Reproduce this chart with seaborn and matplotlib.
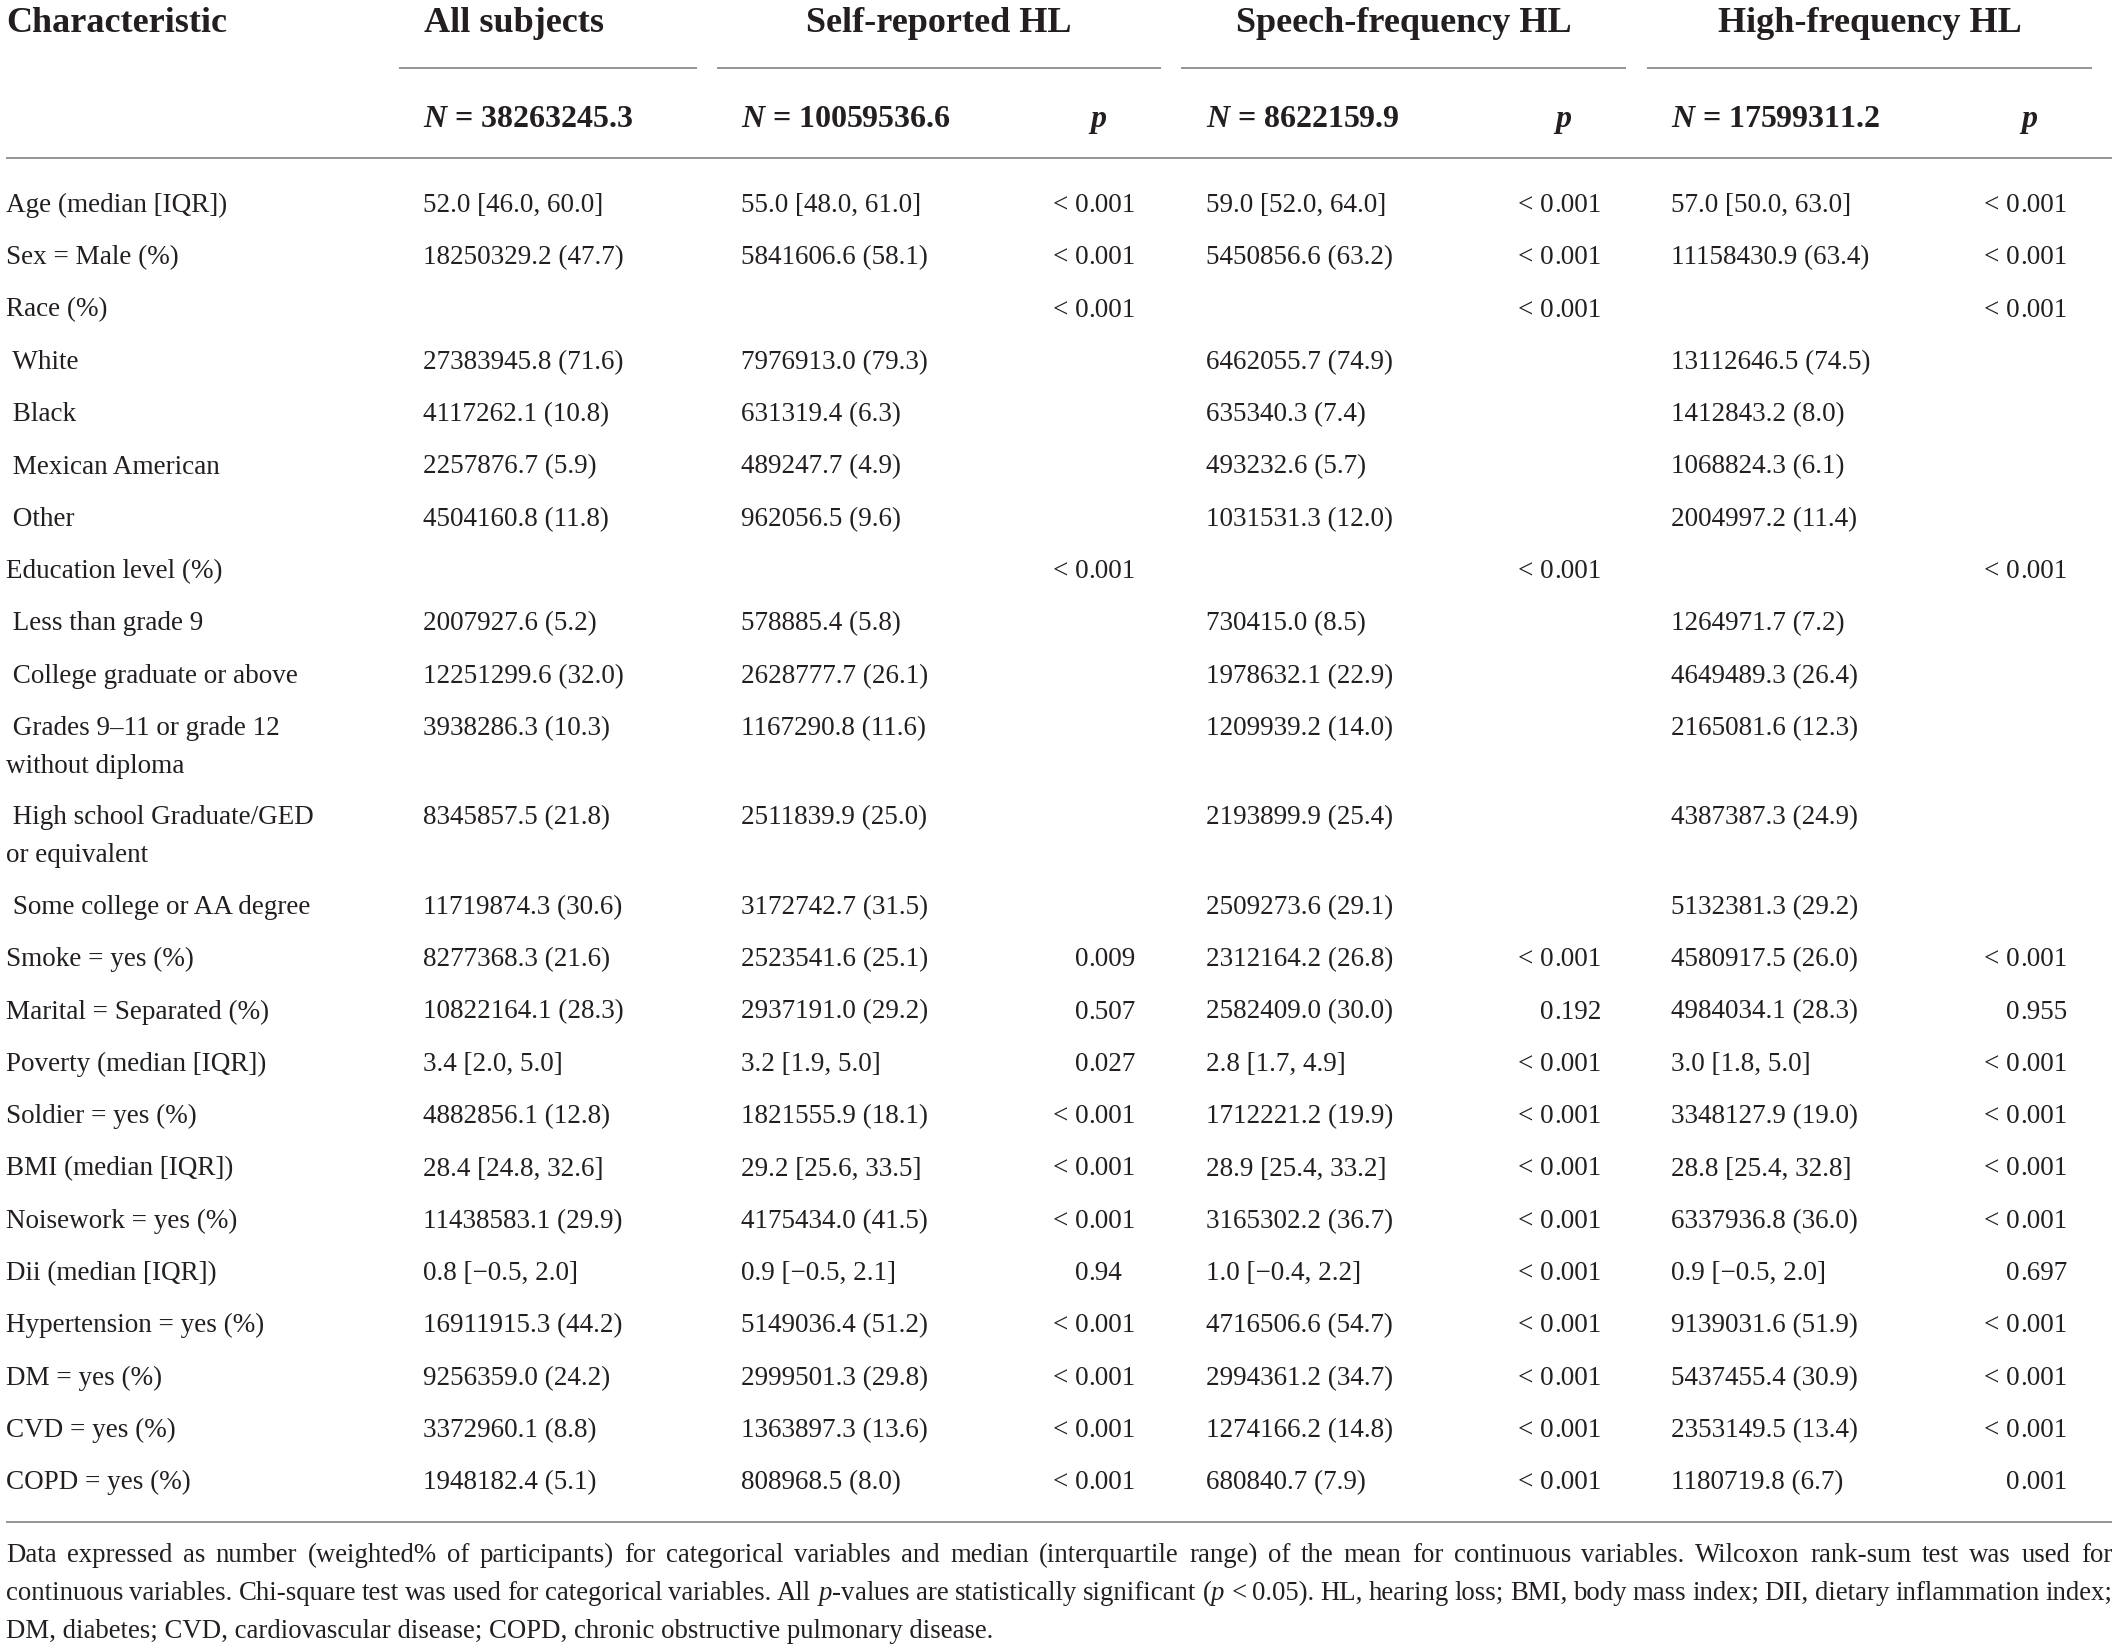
import numpy as np
import pandas as pd
import seaborn as sns
import matplotlib
matplotlib.use("Agg")
import matplotlib.pyplot as plt

# ---------------- data ----------------
labels = ["Age (median [IQR])", "Sex = Male (%)", "Race (%)", " White", " Black",
          " Mexican American", " Other", "Education level (%)", " Less than grade 9",
          " College graduate or above", " Grades 9\u201311 or grade 12\nwithout diploma",
          " High school Graduate/GED\nor equivalent", " Some college or AA degree",
          "Smoke = yes (%)", "Marital = Separated (%)", "Poverty (median [IQR])",
          "Soldier = yes (%)", "BMI (median [IQR])", "Noisework = yes (%)",
          "Dii (median [IQR])", "Hypertension = yes (%)", "DM = yes (%)", "CVD = yes (%)",
          "COPD = yes (%)"]

all_vals = ["52.0 [46.0, 60.0]", "18250329.2 (47.7)", "", "27383945.8 (71.6)", "4117262.1 (10.8)",
            "2257876.7 (5.9)", "4504160.8 (11.8)", "", "2007927.6 (5.2)", "12251299.6 (32.0)",
            "3938286.3 (10.3)", "8345857.5 (21.8)", "11719874.3 (30.6)", "8277368.3 (21.6)",
            "10822164.1 (28.3)", "3.4 [2.0, 5.0]", "4882856.1 (12.8)", "28.4 [24.8, 32.6]",
            "11438583.1 (29.9)", "0.8 [\u22120.5, 2.0]", "16911915.3 (44.2)", "9256359.0 (24.2)",
            "3372960.1 (8.8)", "1948182.4 (5.1)"]

self_vals = ["55.0 [48.0, 61.0]", "5841606.6 (58.1)", "", "7976913.0 (79.3)", "631319.4 (6.3)",
             "489247.7 (4.9)", "962056.5 (9.6)", "", "578885.4 (5.8)", "2628777.7 (26.1)",
             "1167290.8 (11.6)", "2511839.9 (25.0)", "3172742.7 (31.5)", "2523541.6 (25.1)",
             "2937191.0 (29.2)", "3.2 [1.9, 5.0]", "1821555.9 (18.1)", "29.2 [25.6, 33.5]",
             "4175434.0 (41.5)", "0.9 [\u22120.5, 2.1]", "5149036.4 (51.2)", "2999501.3 (29.8)",
             "1363897.3 (13.6)", "808968.5 (8.0)"]
self_p = ["< 0.001", "< 0.001", "< 0.001", "", "", "", "", "< 0.001", "", "", "", "", "",
          "0.009", "0.507", "0.027", "< 0.001", "< 0.001", "< 0.001", "0.94", "< 0.001",
          "< 0.001", "< 0.001", "< 0.001"]

speech_vals = ["59.0 [52.0, 64.0]", "5450856.6 (63.2)", "", "6462055.7 (74.9)", "635340.3 (7.4)",
               "493232.6 (5.7)", "1031531.3 (12.0)", "", "730415.0 (8.5)", "1978632.1 (22.9)",
               "1209939.2 (14.0)", "2193899.9 (25.4)", "2509273.6 (29.1)", "2312164.2 (26.8)",
               "2582409.0 (30.0)", "2.8 [1.7, 4.9]", "1712221.2 (19.9)", "28.9 [25.4, 33.2]",
               "3165302.2 (36.7)", "1.0 [\u22120.4, 2.2]", "4716506.6 (54.7)", "2994361.2 (34.7)",
               "1274166.2 (14.8)", "680840.7 (7.9)"]
speech_p = ["< 0.001", "< 0.001", "< 0.001", "", "", "", "", "< 0.001", "", "", "", "", "",
            "< 0.001", "0.192", "< 0.001", "< 0.001", "< 0.001", "< 0.001", "< 0.001", "< 0.001",
            "< 0.001", "< 0.001", "< 0.001"]

high_vals = ["57.0 [50.0, 63.0]", "11158430.9 (63.4)", "", "13112646.5 (74.5)", "1412843.2 (8.0)",
             "1068824.3 (6.1)", "2004997.2 (11.4)", "", "1264971.7 (7.2)", "4649489.3 (26.4)",
             "2165081.6 (12.3)", "4387387.3 (24.9)", "5132381.3 (29.2)", "4580917.5 (26.0)",
             "4984034.1 (28.3)", "3.0 [1.8, 5.0]", "3348127.9 (19.0)", "28.8 [25.4, 32.8]",
             "6337936.8 (36.0)", "0.9 [\u22120.5, 2.0]", "9139031.6 (51.9)", "5437455.4 (30.9)",
             "2353149.5 (13.4)", "1180719.8 (6.7)"]
high_p = ["< 0.001", "< 0.001", "< 0.001", "", "", "", "", "< 0.001", "", "", "", "", "",
          "< 0.001", "0.955", "< 0.001", "< 0.001", "< 0.001", "< 0.001", "0.697", "< 0.001",
          "< 0.001", "< 0.001", "0.001"]

group_titles = ["All subjects", "Self-reported HL", "Speech-frequency HL", "High-frequency HL"]
group_n = ["38263245.3", "10059536.6", "8622159.9", "17599311.2"]

footnote_lines = [
    "Data expressed as number (weighted% of participants) for categorical variables and median (interquartile range) of the mean for continuous variables. Wilcoxon rank-sum test was used for",
    "continuous variables. Chi-square test was used for categorical variables. All $p$-values are statistically significant ($p$ < 0.05). HL, hearing loss; BMI, body mass index; DII, dietary inflammation index;",
    "DM, diabetes; CVD, cardiovascular disease; COPD, chronic obstructive pulmonary disease.",
]

df = pd.DataFrame({"label": labels, "all": all_vals, "self": self_vals, "self_p": self_p,
                   "speech": speech_vals, "speech_p": speech_p, "high": high_vals, "high_p": high_p})

# ---------------- style ----------------
sns.set_theme(style="white")
plt.rcParams['font.family'] = ['Liberation Serif', 'DejaVu Serif']
plt.rcParams['mathtext.fontset'] = 'custom'
plt.rcParams['mathtext.rm'] = 'Liberation Serif'
plt.rcParams['mathtext.it'] = 'Liberation Serif:italic'
plt.rcParams['mathtext.bf'] = 'Liberation Serif:italic:bold'

W, H = 2117, 1650
fig = plt.figure(figsize=(W / 100, H / 100), dpi=100)
fig.patch.set_facecolor("white")
ax = fig.add_axes([0, 0, 1, 1])
ax.set_xlim(0, W)
ax.set_ylim(H, 0)
ax.axis("off")
renderer = fig.canvas.get_renderer()

TXT = "#231f20"
LINE = "#8c8c8c"
FS = 19.5
FS_HEAD = 26
FS_N = 23
FS_NOTE = 19.3

# column geometry
x_label = 6
x_vals = [423, 741, 1206, 1671]
p_right = [1136, 1601, 2067]
group_centers = [None, 939, 1404, 1870]
underlines = [(399, 697), (717, 1161), (1181, 1626), (1647, 2092)]

# ---------------- header ----------------
ax.text(x_label, 32, "Characteristic", fontsize=FS_HEAD, fontweight="bold", color=TXT,
        ha="left", va="baseline")
for i, title in enumerate(group_titles):
    if i == 0:
        ax.text(424, 32, title, fontsize=FS_HEAD, fontweight="bold", color=TXT, ha="left", va="baseline")
    else:
        ax.text(group_centers[i], 32, title, fontsize=FS_HEAD, fontweight="bold", color=TXT,
                ha="center", va="baseline")
    ax.hlines(68, underlines[i][0], underlines[i][1], color=LINE, lw=1.3)
    ax.text(x_vals[i], 127, r"$\mathbf{N}$ = " + group_n[i], fontsize=FS_N, fontweight="bold",
            color=TXT, ha="left", va="baseline")
for pr in p_right:
    ax.text(pr - 29, 127, r"$\mathbf{p}$", fontsize=FS_N, color=TXT, ha="right", va="baseline")

ax.hlines(158, 6, 2112, color=LINE, lw=1.3)

# ---------------- body ----------------
step, step2 = 52.3, 89.5
probe = ax.text(0, 0, ".001", fontsize=FS)
frac_w = probe.get_window_extent(renderer).width
probe.remove()

y = 203.0
for _, row in df.iterrows():
    base = y + 9
    lines = row["label"].split("\n")
    for k, ln in enumerate(lines):
        ax.text(x_label, base + k * 38, ln, fontsize=FS, color=TXT, ha="left", va="baseline")
    for j, key in enumerate(["all", "self", "speech", "high"]):
        if row[key]:
            ax.text(x_vals[j], base, row[key], fontsize=FS, color=TXT, ha="left", va="baseline")
    for j, key in enumerate(["self_p", "speech_p", "high_p"]):
        val = row[key]
        if val:
            dx = p_right[j] - frac_w
            ip, fp = val.split(".")
            ax.text(dx, base, ip, fontsize=FS, color=TXT, ha="right", va="baseline")
            ax.text(dx, base, "." + fp, fontsize=FS, color=TXT, ha="left", va="baseline")
    y += step2 if len(lines) > 1 else step

ax.hlines(1522, 6, 2112, color=LINE, lw=1.3)

# ---------------- footnote (justified) ----------------
note_y = [1562, 1600, 1638]
left, right = 6, 2112
for i, line in enumerate(footnote_lines):
    if i < 2:
        words = line.split(" ")
        fs = FS_NOTE
        while True:
            arts = [ax.text(0, note_y[i], w, fontsize=fs, color=TXT, ha="left", va="baseline")
                    for w in words]
            widths = [a.get_window_extent(renderer).width for a in arts]
            gap = (right - left - sum(widths)) / (len(words) - 1)
            if gap >= 3.5 or fs < 14:
                break
            for a in arts:
                a.remove()
            fs -= 0.2
        x = left
        for a, w in zip(arts, widths):
            a.set_x(x)
            x += w + gap
    else:
        ax.text(left, note_y[i], line, fontsize=FS_NOTE, color=TXT, ha="left", va="baseline")

fig.savefig("out.png", dpi=100, facecolor="white")
